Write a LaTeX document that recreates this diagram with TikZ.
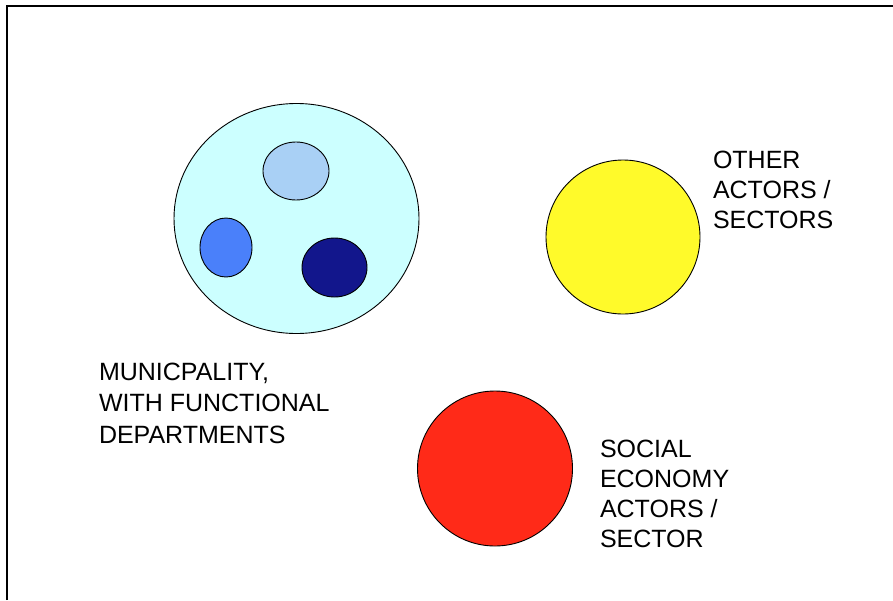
\documentclass[tikz,border=0pt]{standalone}
\usepackage{fontspec}
\setmainfont{Liberation Sans}
\definecolor{munfill}{HTML}{CCFFFF}
\definecolor{deptone}{HTML}{A9D0F5}
\definecolor{depttwo}{HTML}{4A80FA}
\definecolor{deptthree}{HTML}{12168C}
\definecolor{otherfill}{HTML}{FFFA2A}
\definecolor{socialfill}{HTML}{FF2A18}
\begin{document}
\begin{tikzpicture}[y=1pt, x=1pt, yscale=-1, inner sep=0pt, outer sep=0pt,
  blob/.style={draw=black, line width=0.9pt},
  caption/.style={anchor=north west, align=left, font=\fontsize{25}{30}\selectfont}]
\useasboundingbox (0,0) rectangle (893,600);
    % frame
    \path[draw=black,line width=2pt] (7,600) -- (7,6) -- (893,6);
    % municipality with its departments
    \path[blob,fill=munfill] (296.5,218.5) ellipse (122.5 and 115);
    \path[blob,fill=deptone] (296,171) ellipse (33 and 29);
    \path[blob,fill=depttwo] (226,247.5) ellipse (26 and 29.5);
    \path[blob,fill=deptthree] (334.5,267.5) ellipse (32.5 and 29.5);
    % other actors
    \path[blob,fill=otherfill] (623,237) circle (77);
    % social economy
    \path[blob,fill=socialfill] (495,468.5) circle (77.5);
    \path (99,363) node[caption, font=\fontsize{25}{31.5}\selectfont] (textmun) {MUNICPALITY,\\WITH FUNCTIONAL\\DEPARTMENTS};
    \path (713,151.5) node[caption] (textother) {OTHER\\ACTORS /\\SECTORS};
    \path (600,440.5) node[caption] (textsocial) {SOCIAL\\ECONOMY\\ACTORS /\\SECTOR};
\end{tikzpicture}
\end{document}
